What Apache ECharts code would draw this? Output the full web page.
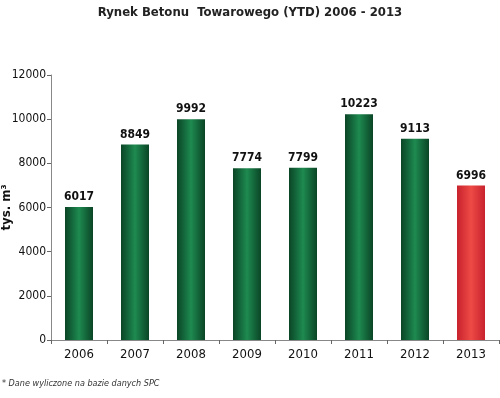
<!DOCTYPE html>
<html><head><meta charset="utf-8">
<script src="https://cdn.jsdelivr.net/npm/echarts@6/dist/echarts.min.js"></script>
<style>html,body{margin:0;padding:0;background:#fff}#c{width:500px;height:398px}</style>
</head><body><div id="c"></div>
<script>
const categories = ['2006','2007','2008','2009','2010','2011','2012','2013'];
const values = [6017, 8849, 9992, 7774, 7799, 10223, 9113, 6996];
const yTicks = [0, 2000, 4000, 6000, 8000, 10000, 12000];
const highlightIndex = 7;

const FONT = "'Liberation Sans Narrow', 'DejaVu Sans Condensed', sans-serif";
function grad(dark, light) {
  return new echarts.graphic.LinearGradient(0, 0, 1, 0, [
    {offset: 0, color: dark}, {offset: 0.5, color: light}, {offset: 1, color: dark}
  ]);
}
const chart = echarts.init(document.getElementById('c'));
chart.setOption({
  animation: false,
  title: {
    text: 'Rynek Betonu  Towarowego (YTD) 2006 - 2013',
    left: 'center', top: 1,
    textStyle: {fontFamily: FONT, fontSize: 13, fontWeight: 'bold', color: '#222'}
  },
  graphic: [{
    type: 'text', left: 2, top: 379,
    style: {text: '* Dane wyliczone na bazie danych SPC', font: "italic 9px " + FONT, fill: '#333'}
  }],
  grid: {left: 51, right: 1, top: 75, bottom: 58, containLabel: false, outerBoundsMode: 'none'},
  xAxis: {
    type: 'category', data: categories,
    axisLine: {lineStyle: {color: '#888', width: 1}},
    axisTick: {show: true, alignWithLabel: false, length: 4, lineStyle: {color: '#666'}},
    axisLabel: {fontFamily: FONT, fontSize: 13, color: '#111', margin: 8}
  },
  yAxis: {
    type: 'value', min: yTicks[0], max: yTicks[yTicks.length - 1], interval: 2000,
    name: 'tys. m³', nameLocation: 'middle', nameGap: 38, nameRotate: 90, nameMoveOverlap: false,
    nameTextStyle: {fontFamily: FONT, fontSize: 13, fontWeight: 'bold', color: '#111'},
    axisLine: {show: true, lineStyle: {color: '#888'}},
    axisTick: {show: true, length: 4, lineStyle: {color: '#666'}},
    splitLine: {show: false},
    axisLabel: {fontFamily: FONT, fontSize: 12, color: '#111', margin: 5, formatter: v => String(v)}
  },
  series: [{
    type: 'bar', barWidth: '50%',
    data: values.map((v, i) => ({
      value: v,
      itemStyle: {color: i === highlightIndex ? grad('#c8222e', '#ee4a45') : grad('#0a4526', '#1e8a50')}
    })),
    label: {show: true, position: 'top', distance: 4, fontFamily: FONT, fontSize: 12, fontWeight: 'bold', color: '#111'}
  }]
});
</script></body></html>
